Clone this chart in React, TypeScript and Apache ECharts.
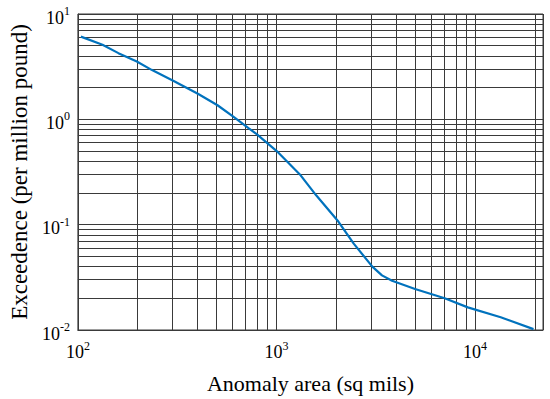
import React, { useEffect, useRef } from "react";
import * as echarts from "echarts";

// Anomaly area (sq mils) and exceedence (per million pound)
const areaValues = [103.5, 133, 160, 198, 235, 307, 402, 505, 611, 726, 798, 1003, 1312, 1585, 2050, 2450, 3040, 3400, 3822, 4990, 7035, 9200, 13470, 19700];
const exceedenceValues = [6.1, 5.1, 4.25, 3.54, 2.95, 2.29, 1.75, 1.36, 1.05, 0.82, 0.72, 0.5, 0.3, 0.19, 0.107, 0.066, 0.04, 0.033, 0.0293, 0.0245, 0.02, 0.0164, 0.0132, 0.0102];

// Minor grid lines
const xMinorGrid = [200, 300, 400, 500, 600, 700, 800, 900, 2000, 3000, 4000, 5000, 6000, 7000, 8000, 9000, 20000];
const yMinorGrid = [0.02, 0.03, 0.04, 0.05, 0.06, 0.07, 0.08, 0.09, 0.2, 0.3, 0.4, 0.5, 0.6, 0.7, 0.8, 0.9, 2, 3, 4, 5, 6, 7, 8, 9];

const xTitle = "Anomaly area (sq mils)";
const yTitle = "Exceedence (per million pound)";

const FONT = "'Liberation Serif', 'Times New Roman', serif";
const GRID_COLOR = "#3a3a3a";

function powLabel(v: number) {
  const e = Math.log10(v);
  if (Math.abs(e - Math.round(e)) > 1e-6) return "";
  return `{b|10}{s|${Math.round(e)}}`;
}

export default function App() {
  const ref = useRef<HTMLDivElement>(null);
  useEffect(() => {
    if (!ref.current) return;
    const chart = echarts.init(ref.current, undefined, { renderer: "svg" });
    chart.setOption({
      animation: false,
      textStyle: { fontFamily: FONT, color: "#000" },
      grid: {
        left: 72,
        right: 7,
        top: 14,
        bottom: 68,
        show: true,
        borderColor: GRID_COLOR,
        borderWidth: 1,
        backgroundColor: "transparent",
      },
      xAxis: {
        type: "log",
        logBase: 10,
        min: 100,
        max: 22000,
        name: xTitle,
        nameLocation: "middle",
        nameGap: 42,
        nameTextStyle: { fontFamily: FONT, fontSize: 22, color: "#000" },
        axisLine: { show: true, lineStyle: { color: GRID_COLOR, width: 1 } },
        axisTick: { show: false },
        splitLine: { show: true, lineStyle: { color: GRID_COLOR, width: 1 } },
        axisLabel: {
          margin: 13,
          formatter: powLabel,
          rich: {
            b: { fontFamily: FONT, fontSize: 18, lineHeight: 18, color: "#000" },
            s: { fontFamily: FONT, fontSize: 12, lineHeight: 12, color: "#000", padding: [0, 0, 13, 0] },
          },
        },
      },
      yAxis: {
        type: "log",
        logBase: 10,
        min: 0.01,
        max: 10,
        name: yTitle,
        nameLocation: "middle",
        nameGap: 45,
        nameRotate: 90,
        nameTextStyle: { fontFamily: FONT, fontSize: 23, color: "#000" },
        axisLine: { show: true, lineStyle: { color: GRID_COLOR, width: 1 } },
        axisTick: { show: false },
        splitLine: { show: true, lineStyle: { color: GRID_COLOR, width: 1 } },
        axisLabel: {
          margin: 8,
          formatter: powLabel,
          rich: {
            b: { fontFamily: FONT, fontSize: 18, lineHeight: 18, color: "#000", padding: [7, 0, 0, 0] },
            s: { fontFamily: FONT, fontSize: 12, lineHeight: 12, color: "#000", padding: [0, 0, 6, 0] },
          },
        },
      },
      series: [
        {
          type: "line",
          data: areaValues.map((x, i) => [x, exceedenceValues[i]]),
          showSymbol: false,
          symbol: "none",
          smooth: false,
          lineStyle: { color: "#0072BD", width: 2.2 },
          z: 5,
          markLine: {
            silent: true,
            symbol: "none",
            label: { show: false },
            animation: false,
            lineStyle: { color: GRID_COLOR, width: 1, type: "solid" },
            data: [
              ...xMinorGrid.map((v) => ({ xAxis: v })),
              ...yMinorGrid.map((v) => ({ yAxis: v })),
            ],
            z: 1,
          },
        },
      ],
    });
    return () => chart.dispose();
  }, []);
  return (
    <div
      ref={ref}
      style={{ position: "fixed", left: 0, top: 0, width: 550, height: 399, background: "#fff" }}
    />
  );
}
